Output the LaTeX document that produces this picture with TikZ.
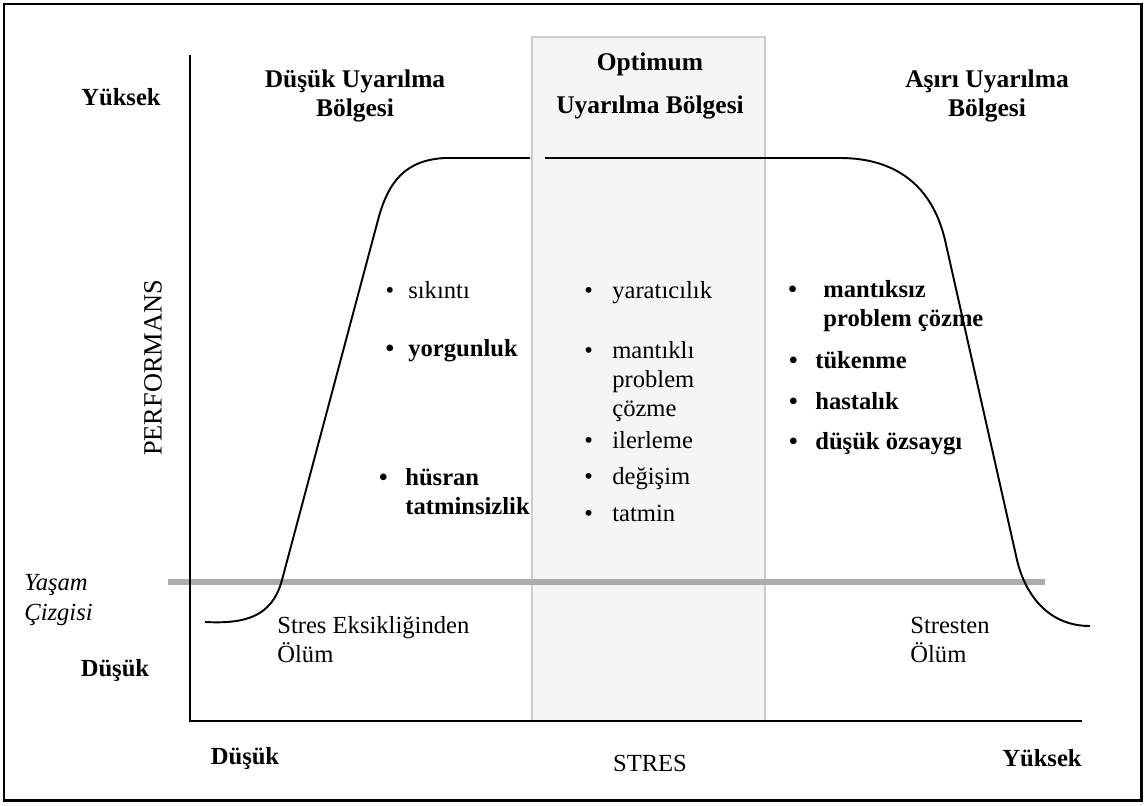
\documentclass[tikz,border=0pt]{standalone}
\usepackage{fontspec}
\setmainfont{Liberation Serif}
\usepackage{tikz}

\newcommand{\blt}[1]{\llap{\textbullet\hspace{#1}}}

\begin{document}
\begin{tikzpicture}[x=0.02cm,y=-0.02cm,
  txt/.style={font=\fontsize{14}{16.5}\selectfont, inner sep=0pt},
  bold/.style={txt, font=\fontsize{14}{16.5}\selectfont\bfseries},
  head/.style={txt, align=center, font=\fontsize{14.5}{16.5}\selectfont\bfseries},
  item/.style={txt, anchor=base west, align=left},
  bitem/.style={bold, anchor=base west, align=left}]
\useasboundingbox (0,0) rectangle (1146,805);
\draw[line width=1.7pt] (4,4) rectangle (1141,800);
% optimum zone
\draw[gray!40, fill=gray!8, line width=0.9pt] (532,37) rectangle (765,721);
% life line
\draw[gray!65, line width=3.4pt] (168,582) -- (1045,582);
% axes
\draw[line width=1.2pt] (190,55) -- (190,721) -- (1082,721);
% performance curve
\draw[line width=1.1pt] (205,622) .. controls (245,624) and (272,617) .. (282,580)
  -- (378,220) .. controls (388,182) and (405,160) .. (445,158) -- (530,158);
\draw[line width=1.1pt] (545,158) -- (840,158) .. controls (895,158) and (932,185) .. (945,240)
  -- (1017,560) .. controls (1024,590) and (1045,626) .. (1090,626);

\node[bold] (hi) at (121,97) {Yüksek};
\node[head] (low-zone) at (355,96) {Düşük Uyarılma\\Bölgesi};
\node[head] (opt-zone) at (650,86) {Optimum\\[7.5pt]Uyarılma Bölgesi};
\node[head] (over-zone) at (987,96) {Aşırı Uyarılma\\Bölgesi};
\node[txt, font=\fontsize{15}{17}\selectfont, rotate=90] (perf) at (153,368) {PERFORMANS};
\node[txt, font=\fontsize{14}{17}\selectfont\itshape, align=left, anchor=west] (life) at (24,600) {Yaşam\\Çizgisi};
\node[bold] (lo) at (115,670) {Düşük};
\node[bold] (lo-x) at (245,758) {Düşük};
\node[txt] (stres) at (650,763) {STRES};
\node[bold] (hi-x) at (1042,758) {Yüksek};
\node[item] (death-low) at (277,662) {Stres Eksikliğinden\\Ölüm};
\node[item] (death-high) at (910,662) {Stresten\\Ölüm};

% low zone
\node[item] (boredom) at (408,298) {\blt{8pt}sıkıntı};
\node[bitem] (fatigue) at (408,356) {\blt{8pt}yorgunluk};
\node[bitem] (frustration) at (405,514) {\blt{10pt}hüsran\\tatminsizlik};
% optimum zone
\node[item] (creativity) at (612,298) {\blt{11pt}yaratıcılık};
\node[item] (rational) at (612,416) {\blt{11pt}mantıklı\\problem\\çözme};
\node[item] (progress) at (612,448) {\blt{11pt}ilerleme};
\node[item] (change) at (612,484) {\blt{11pt}değişim};
\node[item] (satisfaction) at (612,521) {\blt{11pt}tatmin};
% over zone
\node[bitem] (irrational) at (823,326) {\blt{15pt}mantıksız\\problem çözme};
\node[bitem] (burnout) at (815,368) {\blt{10pt}tükenme};
\node[bitem] (illness) at (815,409) {\blt{10pt}hastalık};
\node[bitem] (esteem) at (815,449) {\blt{10pt}düşük özsaygı};
\end{tikzpicture}
\end{document}
